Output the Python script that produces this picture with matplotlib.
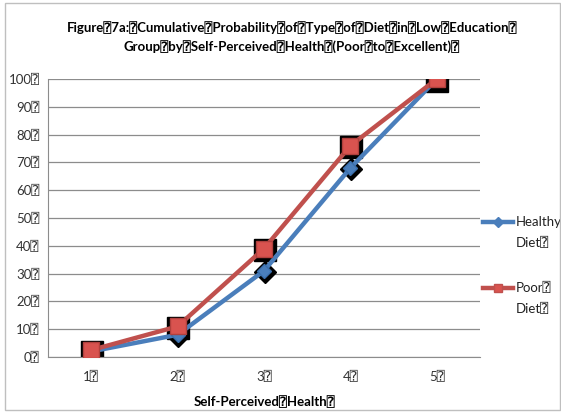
import numpy as np
import matplotlib.pyplot as plt
import matplotlib.transforms as mtransforms
from matplotlib.patches import Rectangle

BOX = "\u2370"

categories = ["1", "2", "3", "4", "5"]
healthy = [2, 8, 31, 68, 100]
poor = [2.5, 11, 39, 76, 100]
yticks = [0, 10, 20, 30, 40, 50, 60, 70, 80, 90, 100]

plt.rcParams['font.family'] = ['Lato', 'DejaVu Sans', 'DejaVu Sans Mono']

fig = plt.figure(figsize=(5.61, 4.13), dpi=100)
W, H = 561, 413
ax = fig.add_axes([48 / W, 1 - 357 / H, (480 - 48) / W, (357 - 79) / H])

x = np.arange(1, len(categories) + 1)

def shadow(dx, dy):
    return mtransforms.offset_copy(ax.transData, fig=fig, x=dx, y=dy, units='dots')

# thick black halo under each marker
ax.plot(x, healthy, linestyle='none', marker='D', markersize=11, color='black',
        transform=shadow(0.5, -1.5), zorder=2)
ax.plot(x, poor, linestyle='none', marker='s', markersize=15.5, color='black',
        transform=shadow(0.5, -1.5), zorder=2)

ax.plot(x, healthy, color='#4A7EBB', linewidth=3.2, zorder=3)
ax.plot(x, healthy, linestyle='none', marker='D', markersize=7.5, color='#4A7EBB',
        markeredgecolor='#3A6EAB', zorder=4)
ax.plot(x, poor, color='#C0504D', linewidth=3.2, zorder=3)
ax.plot(x, poor, linestyle='none', marker='s', markersize=11, color='#D9534F',
        markeredgecolor='#B0403D', zorder=5)

ax.set_xlim(0.5, 5.5)
ax.set_ylim(0, 100)
ax.set_yticks(yticks)
ax.set_yticklabels([f"{v}{BOX}" for v in yticks], fontsize=9.5, color='#333333')
ax.set_xticks(x)
ax.set_xticklabels([f"{c}{BOX}" for c in categories], fontsize=9.5, color='#333333')
ax.tick_params(axis='both', length=0, pad=6)
ax.tick_params(axis='x', pad=10)
ax.grid(axis='y', color='#8c8c8c', linewidth=0.9)
ax.set_axisbelow(True)
for s in ['top', 'right']:
    ax.spines[s].set_visible(False)
ax.spines['left'].set_color('#8c8c8c')
ax.spines['bottom'].set_color('#8c8c8c')

ax.set_xlabel(f"Self-Perceived{BOX}Health{BOX}", fontsize=9.5, fontweight='bold', labelpad=9)

fig.text(292 / W, 1 - 28 / H,
         f"Figure{BOX}7a:{BOX}Cumulative{BOX}Probability{BOX}of{BOX}Type{BOX}of{BOX}Diet{BOX}in{BOX}Low{BOX}Education{BOX}",
         ha='center', va='center', fontsize=9.5, fontweight='bold')
fig.text(292 / W, 1 - 47 / H,
         f"Group{BOX}by{BOX}Self-Perceived{BOX}Health{BOX}(Poor{BOX}to{BOX}Excellent){BOX}",
         ha='center', va='center', fontsize=9.5, fontweight='bold')

# legend drawn by hand so the labels can run off the right edge
lax = fig.add_axes([0, 0, 1, 1], facecolor='none')
lax.set_xlim(0, W)
lax.set_ylim(H, 0)
lax.axis('off')
lax.plot([483, 513], [222, 222], color='#4A7EBB', linewidth=3.2)
lax.plot([498], [222], marker='D', markersize=5, color='#4A7EBB')
lax.plot([483, 513], [288, 288], color='#C0504D', linewidth=3.2)
lax.plot([498], [288], marker='s', markersize=6, color='#D9534F', markeredgecolor='#C0504D')
lax.text(516, 222, "Healthy", fontsize=9.5, va='center', ha='left', color='#222222')
lax.text(516, 243, f"Diet{BOX}", fontsize=9.5, va='center', ha='left', color='#222222')
lax.text(516, 288, f"Poor{BOX}", fontsize=9.5, va='center', ha='left', color='#222222')
lax.text(516, 309, f"Diet{BOX}", fontsize=9.5, va='center', ha='left', color='#222222')

fig.patches.append(Rectangle((5 / W, 3 / H), (W - 6) / W, (H - 6) / H,
                             transform=fig.transFigure, fill=False,
                             edgecolor='#bfbfbf', linewidth=1))

fig.savefig("out.png", dpi=100)
